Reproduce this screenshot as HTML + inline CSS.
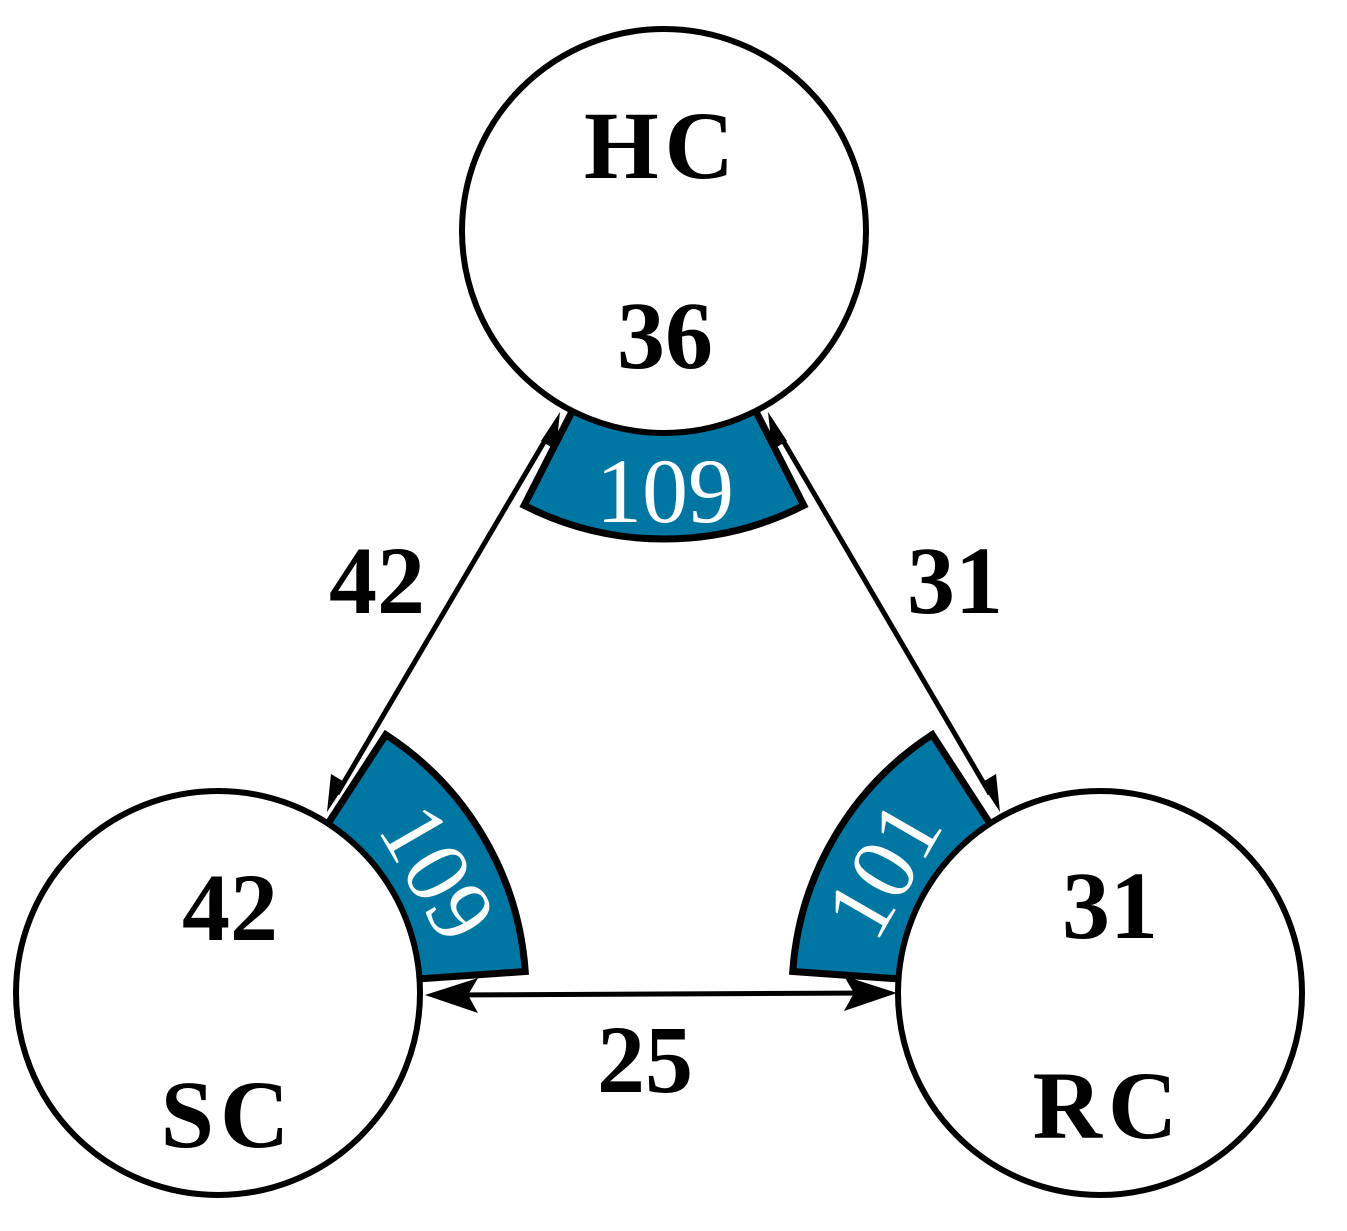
<!DOCTYPE html>
<html><head><meta charset="utf-8"><style>html,body{margin:0;padding:0;background:#fff}svg{display:block}</style></head>
<body>
<svg width="1347" height="1231" viewBox="0 0 1347 1231" xmlns="http://www.w3.org/2000/svg" font-family="'Liberation Serif', serif">
<defs>
<marker id="a" viewBox="0 0 10 10" refX="9" refY="5" markerWidth="8" markerHeight="8" markerUnits="userSpaceOnUse" orient="auto-start-reverse" style="overflow:visible">
</marker>
</defs>
<g fill="#0077a3" stroke="#000" stroke-width="7" stroke-linejoin="miter">
<!-- HC band: center 664,231 angles 63..117 (svg deg) -->
<path id="b1" d=""/>
<path id="b2" d=""/>
<path id="b3" d=""/>
</g>
<g fill="#fff" stroke="#000" stroke-width="6">
<circle cx="664" cy="231" r="202"/>
<circle cx="218" cy="993" r="202"/>
<circle cx="1100" cy="993" r="202"/>
</g>
<g stroke="#000" stroke-width="5" fill="none">
<line x1="550" y1="432" x2="337" y2="794"/>
<line x1="778" y1="432" x2="990" y2="794"/>
<line x1="448" y1="995" x2="872" y2="993"/>
</g>
<g fill="#000">
<polygon points="560,412 556,450 541,441"/>
<polygon points="327,812 331,774 346,783"/>
<polygon points="768,412 787,441 772,450"/>
<polygon points="1000,812 981,783 996,774"/>
<polygon points="425,995 478,978 468,995 478,1013"/>
<polygon points="897,993 844,1011 854,993 844,976"/>
</g>
<g font-weight="bold" fill="#000" text-anchor="middle" font-size="96">
<text x="662" y="178" letter-spacing="6">HC</text>
<text x="665" y="368">36</text>
<text x="377" y="613">42</text>
<text x="955" y="613">31</text>
<text x="645" y="1092">25</text>
<text x="230" y="940">42</text>
<text x="228" y="1147" letter-spacing="6">SC</text>
<text x="1110" y="938">31</text>
<text x="1108" y="1138" letter-spacing="6">RC</text>
</g>
<g fill="#fff" text-anchor="middle" font-size="92">
<text x="665" y="522">109</text>
<text transform="translate(437,873) rotate(60)" y="30">109</text>
<text transform="translate(884,870) rotate(-60)" y="30">101</text>
</g>
<script>
function sec(cx,cy,r1,r2,a1,a2){const R=Math.PI/180;const p=(r,a)=>[cx+r*Math.cos(a*R),cy+r*Math.sin(a*R)];
const A=p(r1,a1),B=p(r2,a1),C=p(r2,a2),D=p(r1,a2);
return `M${A} L${B} A${r2} ${r2} 0 0 1 ${C} L${D} A${r1} ${r1} 0 0 0 ${A}Z`.replace(/,/g,' ');}
document.getElementById('b1').setAttribute('d',sec(664,231,200,308,63,117));
document.getElementById('b2').setAttribute('d',sec(218,993,200,308,-57,-4));
document.getElementById('b3').setAttribute('d',sec(1100,993,200,308,184,237));
</script>
</svg>
</body></html>
